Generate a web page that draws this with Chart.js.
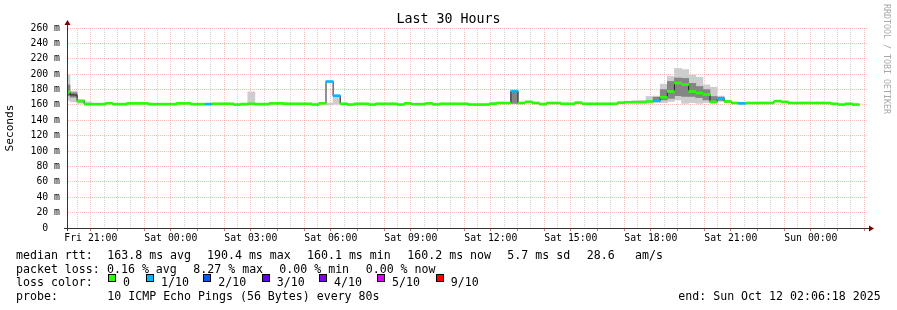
<!DOCTYPE html>
<html>
<head>
<meta charset="utf-8">
<title>Last 30 Hours</title>
<script src="https://cdn.jsdelivr.net/npm/chart.js@4.4.1/dist/chart.umd.min.js"></script>
<style>
  html, body { margin: 0; padding: 0; background: #fff; }
  #wrap { position: relative; width: 897px; height: 310px; overflow: hidden;
    font-family: 'DejaVu Sans Mono', monospace; color: #000; }
  #chart { position: absolute; left: 0; top: 0; }
  .t { position: absolute; white-space: pre; font-size: 11.6px; line-height: 14px; }
  .box { position: absolute; width: 8px; height: 8px; box-sizing: border-box; border: 1px solid #000; }
  #title { position: absolute; left: 0; top: 11px; width: 897px; text-align: center;
    font-size: 13.3px; line-height: 16px; }
  #credit { position: absolute; left: 882px; top: 4px; writing-mode: vertical-rl;
    font-size: 8.3px; line-height: 10px; color: #a8a8a8; white-space: pre; }
</style>
</head>
<body>
<div id="wrap">
  <canvas id="chart" width="897" height="310"></canvas>
  <div id="title">Last 30 Hours</div>
  <div id="credit">RRDTOOL / TOBI OETIKER</div>
  <div id="legend"></div>
</div>
<script>
// x axis runs in minutes from the graph start (Fri 20:06:18) to its end 30 h later
const spanMinutes = 1800
const firstLabelMinute = 53.7
const timeLabels = ['Fri 21:00', 'Sat 00:00', 'Sat 03:00', 'Sat 06:00', 'Sat 09:00',
  'Sat 12:00', 'Sat 15:00', 'Sat 18:00', 'Sat 21:00', 'Sun 00:00']

// one consolidated step every 16 min, the first one starts before the graph
const stepMinutes = 16
const firstEdgeMinute = -9.25

// median rtt per step (ms)
const medianMs = [
  177, 173, 165, 161, 161, 161, 162.2, 161, 161, 162,
  162, 162, 161, 161, 161, 161, 162, 162, 161, 161,
  161, 161.5, 161.5, 161.5, 160.5, 161, 161.5, 161, 161, 162,
  162, 161.5, 161.5, 161.5, 161.5, 160.5, 162, 190.4, 172, 161.5,
  160.5, 161.5, 161.5, 160.5, 161.5, 161.5, 161.5, 160.5, 162, 161,
  161, 162, 160.7, 161.5, 161.5, 161.5, 161.5, 160.5, 160.5, 160.5,
  161.5, 162.5, 162.5, 178, 162.5, 164, 162.5, 161, 162.5, 162.5,
  161.5, 161.5, 163, 161.5, 161.5, 161.5, 161.5, 161.5, 163, 163.5,
  163.5, 163.5, 164.5, 165.5, 170, 177.5, 188.5, 186.5, 177.5, 175.5,
  173.5, 164, 168, 164.5, 162.5, 162, 162.5, 162.5, 162.5, 162.5,
  165, 164, 162.5, 162.5, 162.5, 162.5, 162.5, 162.5, 161.5, 160.5,
  161.5, 160.5
]

// lost pings out of 10 per step (null: no loss colour drawn)
const lossCount = [
  0, null, 0, 0, 0, 0, 0, 0, 0, 0,
  0, 0, 0, 0, 0, 0, 0, 0, 0, 0,
  1, 0, 0, 0, 0, 0, 0, 0, 0, 0,
  0, 0, 0, 0, 0, 0, 0, 1, 1, 0,
  0, 0, 0, 0, 0, 0, 0, 0, 0, 0,
  0, 0, 0, 0, 0, 0, 0, 0, 0, 0,
  0, 0, 0, 1, 0, 0, 0, 0, 0, 0,
  0, 0, 0, 0, 0, 0, 0, 0, 0, 0,
  0, 0, 0, 1, 0, 0, 0, 0, 0, 0,
  0, 0, 1, 0, 0, 1, 0, 0, 0, 0,
  0, 0, 0, 0, 0, 0, 0, 0, 0, 0,
  0, 0
]

// smoke: full spread of the pings (light) and the inner part (dark), only where visible
const smokeSteps = [0, 1, 2, 3, 26, 37, 38, 60, 63, 80, 81, 82, 83, 84, 85, 86, 87, 88, 89, 90, 91, 92, 93]
const smokeMin = [166, 164, 162, 160, 161, 159.8, 161, 161, 161.5, 163, 163, 162, 163, 163, 164.5, 166.5, 162, 163, 162, 163, 162, 164.5, 163]
const smokeMax = [199, 178, 167, 164, 177, 162.5, 171, 163.5, 178, 165.5, 166, 171, 171.5, 187, 197, 207.5, 206, 199, 196, 186, 183, 171.5, 166]
const innerSteps = [0, 1, 2, 63, 83, 84, 85, 86, 87, 88, 89, 90, 91, 92]
const innerMin = [172, 170, 164, 162, 166.5, 166.5, 168.5, 172, 171, 171, 169.5, 166.5, 165, 166]
const innerMax = [186, 176, 166, 177, 170, 180, 190.5, 195, 194.5, 188, 184, 180, 171, 170]

const lossLevels = [0, 1, 2, 3, 4, 5, 9]
const lossLabels = ['0', '1/10', '2/10', '3/10', '4/10', '5/10', '9/10']
const lossColors = ['#26ff00', '#00b8ff', '#0059ff', '#5e00ff', '#7e00ff', '#dd00ff', '#ff0000']

const GRID = 'rgba(150,150,150,0.4)'
const MGRID = 'rgba(240,90,90,0.38)'
const AXIS = '#333333'
const ARROW = '#7f0000'
const LINE_HALF = 1.3

function lossColor(n) {
  let k = 0
  lossLevels.forEach((lv, i) => { if (n >= lv) k = i })
  return lossColors[k]
}

const edgeMin = (j) => firstEdgeMinute + j * stepMinutes
const midMin = (j) => edgeMin(j) + stepMinutes / 2
const isHour = (v) => {
  const r = (((v - firstLabelMinute) % 60) + 60) % 60
  return r < 0.01 || 60 - r < 0.01
}

const gridMinutes = []
for (let m = firstLabelMinute - 30; m < spanMinutes; m += 30) gridMinutes.push(m)

const outerBars = smokeSteps.map((j, k) => ({ x: midMin(j), y: [smokeMin[k], smokeMax[k]] }))
const innerBars = innerSteps.map((j, k) => ({ x: midMin(j), y: [innerMin[k], innerMax[k]] }))
const stairs = medianMs.map((v, j) => ({ x: edgeMin(j), y: v }))
stairs.push({ x: edgeMin(medianMs.length), y: medianMs[medianMs.length - 1] })
const lossBars = medianMs
  .map((v, j) => ({ x: midMin(j), y: [v - LINE_HALF, v + LINE_HALF], loss: lossCount[j] }))
  .filter((p) => p.loss !== null)

const axisArrows = {
  id: 'axisArrows',
  afterDraw(chart) {
    const { ctx, chartArea: a } = chart
    ctx.save()
    ctx.strokeStyle = AXIS
    ctx.lineWidth = 1
    ctx.beginPath()
    ctx.moveTo(a.left + 0.5, a.bottom + 3)
    ctx.lineTo(a.left + 0.5, a.top - 4)
    ctx.moveTo(a.left - 3, a.bottom + 0.5)
    ctx.lineTo(a.right + 2, a.bottom + 0.5)
    ctx.stroke()
    ctx.fillStyle = ARROW
    ctx.beginPath()
    ctx.moveTo(a.left + 0.5, a.top - 8)
    ctx.lineTo(a.left - 2.5, a.top - 3)
    ctx.lineTo(a.left + 3.5, a.top - 3)
    ctx.fill()
    ctx.beginPath()
    ctx.moveTo(a.right + 7, a.bottom + 0.5)
    ctx.lineTo(a.right + 2, a.bottom - 2.5)
    ctx.lineTo(a.right + 2, a.bottom + 3.5)
    ctx.fill()
    ctx.restore()
  }
}

Chart.defaults.font.family = "'DejaVu Sans Mono', monospace"
Chart.defaults.color = '#000'

new Chart(document.getElementById('chart'), {
  type: 'bar',
  data: {
    datasets: [
      {
        data: lossBars,
        backgroundColor: (c) => lossColor(c.raw ? c.raw.loss : 0),
        grouped: false, barPercentage: 1, categoryPercentage: 1, borderWidth: 0, order: 0
      },
      {
        type: 'line',
        data: stairs,
        stepped: 'before',
        borderColor: '#222',
        borderWidth: 1,
        pointRadius: 0,
        fill: false,
        order: 1
      },
      {
        data: innerBars,
        backgroundColor: '#858585',
        grouped: false, barPercentage: 1, categoryPercentage: 1, borderWidth: 0, order: 2
      },
      {
        data: outerBars,
        backgroundColor: '#cdcdcd',
        grouped: false, barPercentage: 1, categoryPercentage: 1, borderWidth: 0, order: 3
      }
    ]
  },
  options: {
    responsive: false,
    animation: false,
    events: [],
    devicePixelRatio: 1,
    layout: { padding: { left: 0, right: 30, top: 28, bottom: 0 } },
    plugins: { legend: { display: false }, tooltip: { enabled: false }, title: { display: false } },
    scales: {
      x: {
        type: 'linear',
        min: 0,
        max: spanMinutes,
        offset: false,
        afterFit: (s) => { s.height = 82 },
        afterBuildTicks: (s) => { s.ticks = gridMinutes.map((v) => ({ value: v })) },
        ticks: {
          autoSkip: false,
          maxRotation: 0,
          minRotation: 0,
          padding: 2,
          font: { size: 9.8 },
          callback: (v) => {
            const k = Math.round((v - firstLabelMinute) / 180)
            if (Math.abs(v - (firstLabelMinute + k * 180)) < 0.01 && timeLabels[k]) return timeLabels[k]
            return ''
          }
        },
        grid: {
          offset: false,
          color: (c) => (isHour(c.tick.value) ? MGRID : GRID),
          tickColor: (c) => (isHour(c.tick.value) ? 'rgba(220,60,60,0.7)' : 'rgba(0,0,0,0)'),
          tickLength: 3
        },
        border: { display: true, color: AXIS, dash: [1, 1] }
      },
      y: {
        min: 0,
        max: 260,
        afterFit: (s) => { s.width = 67 },
        ticks: {
          stepSize: 10,
          padding: 3,
          font: { size: 9.8 },
          callback: (v) => (v % 20 !== 0 ? '' : v === 0 ? '0  ' : v + ' m')
        },
        grid: {
          color: (c) => (c.tick.value % 20 === 0 ? MGRID : GRID),
          tickColor: 'rgba(0,0,0,0)',
          tickLength: 4
        },
        border: { display: true, color: AXIS, dash: [1, 1] },
        title: {
          display: true,
          text: 'Seconds',
          font: { size: 11.2 },
          padding: { top: 3.5, bottom: 0 }
        }
      }
    }
  },
  plugins: [axisArrows]
})

// legend block under the graph
const legendRows = [
  [258.5, [[16, 'median rtt:'], [107.3, '163.8 ms avg'], [207, '190.4 ms max'], [307, '160.1 ms min'],
    [407.3, '160.2 ms now'], [507.3, '5.7 ms sd'], [586.7, '28.6'], [635, 'am/s']]],
  [272.5, [[16, 'packet loss:'], [107, '0.16 % avg'], [193.3, '8.27 % max'], [279.3, '0.00 % min'],
    [365.7, '0.00 % now']]],
  [286, [[16, 'loss color:']]],
  [300, [[16, 'probe:'], [107.3, '10 ICMP Echo Pings (56 Bytes) every 80s'],
    [678.3, 'end: Sun Oct 12 02:06:18 2025']]]
]
const boxX = [108, 146, 203.3, 261.7, 319, 377, 435.7]

const legend = document.getElementById('legend')
legendRows.forEach(([base, parts]) => {
  parts.forEach(([x, text]) => {
    const el = document.createElement('div')
    el.className = 't'
    el.style.left = x + 'px'
    el.style.top = (base - 11) + 'px'
    el.textContent = text
    legend.appendChild(el)
  })
})
lossLabels.forEach((label, i) => {
  const b = document.createElement('div')
  b.className = 'box'
  b.style.left = boxX[i] + 'px'
  b.style.top = '274px'
  b.style.background = lossColors[i]
  legend.appendChild(b)
  const el = document.createElement('div')
  el.className = 't'
  el.style.left = (boxX[i] + 15) + 'px'
  el.style.top = (286 - 11) + 'px'
  el.textContent = label
  legend.appendChild(el)
})
</script>
</body>
</html>
